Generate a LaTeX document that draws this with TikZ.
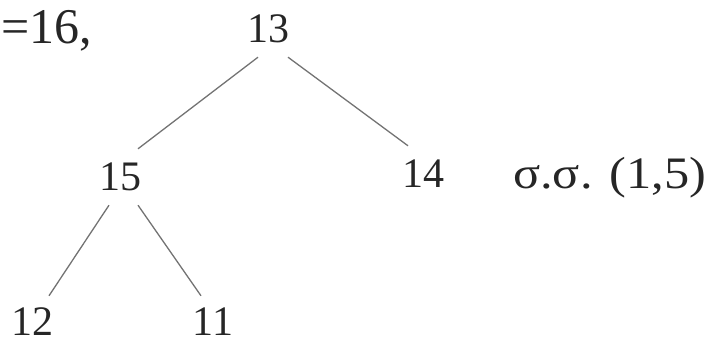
\documentclass[tikz,border=0pt]{standalone}
\usepackage{fontspec}
\setmainfont{Liberation Serif}
\begin{document}
\begin{tikzpicture}[x=1pt, y=1pt, every node/.style={font=\fontsize{42}{50}\selectfont, text=black!85}]
\tikzset{num/.style={minimum height=56pt, minimum width=40pt, inner sep=0pt},
  leaf/.style={num, minimum height=36pt},
  note/.style={anchor=base west, inner sep=0pt},
  branch/.style={draw=black!55, line width=1.3pt}}
\useasboundingbox (0,0) rectangle (713,-347);
\node[note, font=\fontsize{50}{58}\selectfont] (eq) at (1,-44) {=16,};
\node[num] (n13) at (268,-29) {13};
\node[num] (n15) at (120,-177) {15};
\node[num] (n14) at (423,-174) {14};
\node[leaf] (n12) at (33,-322) {12};
\node[leaf] (n11) at (213,-322) {11};
\node[note, font=\fontsize{45}{52}\selectfont, xscale=1.12, transform shape] (ss) at (513,-189) {σ.σ. (1,5)};
\draw[branch] ([xshift=-10pt]n13.south) -- ([xshift=18pt]n15.north);
\draw[branch] ([xshift=20pt]n13.south) -- ([xshift=-15pt]n14.north);
\draw[branch] ([xshift=-11pt]n15.south) -- ([xshift=16pt,yshift=8pt]n12.north);
\draw[branch] ([xshift=18pt]n15.south) -- ([xshift=-12pt,yshift=8pt]n11.north);
\end{tikzpicture}
\end{document}
